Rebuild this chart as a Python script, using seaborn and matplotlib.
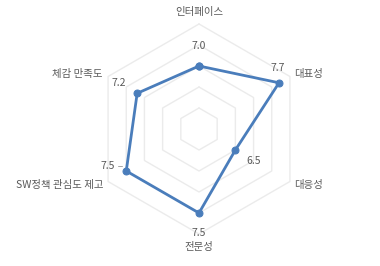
import numpy as np
import pandas as pd
import matplotlib
matplotlib.use("Agg")
import matplotlib.pyplot as plt
import matplotlib.transforms as mtransforms
import seaborn as sns

categories = ["인터페이스", "대표성", "대응성", "전문성", "SW정책 관심도 제고", "체감 만족도"]
values = [7.0, 7.7, 6.5, 7.5, 7.5, 7.2]
grid_levels = [6.0, 6.5, 7.0, 7.5, 8.0]
r_min = 5.5

sns.set_theme(style="white")
plt.rcParams["font.family"] = ["Noto Sans CJK KR", "DejaVu Sans"]

W, H, DPI = 380, 266, 100
fig = plt.figure(figsize=(W / DPI, H / DPI), dpi=DPI)
ax = fig.add_axes([0, 0, 1, 1])

n = len(categories)
angles = np.pi / 2 - 2 * np.pi * np.arange(n) / n
cosA, sinA = np.cos(angles), np.sin(angles)

# hexagonal grid rings
grid_color = "#ebebeb"
for lv in grid_levels:
    r = lv - r_min
    gx = np.append(r * cosA, r * cosA[0])
    gy = np.append(r * sinA, r * sinA[0])
    ax.plot(gx, gy, color=grid_color, lw=1.0, zorder=1)

# data polygon
rv = np.array(values) - r_min
dx = rv * cosA
dy = rv * sinA
df = pd.DataFrame({"x": np.append(dx, dx[0]), "y": np.append(dy, dy[0])})
line_color = "#4a7dbb"
sns.lineplot(data=df, x="x", y="y", sort=False, estimator=None, ax=ax,
             color=line_color, lw=2.0, marker="o", markersize=5,
             markeredgecolor=line_color, markerfacecolor=line_color, zorder=3)

txt_color = "#595959"
fs = 7.5

# value labels (offsets in pixels)
val_offsets = [(0, 20, "center"), (-1, 15, "center"), (18, -11, "center"),
               (0, -20, "center"), (-19, 5, "center"), (-18, 10, "center")]
for i, v in enumerate(values):
    ox, oy, ha = val_offsets[i]
    ax.annotate(f"{v:.1f}", (dx[i], dy[i]), xytext=(ox, oy), textcoords="offset pixels",
                ha=ha, va="center", fontsize=fs, color=txt_color, zorder=4)

# short horizontal leader dash next to the left "7.5" label
off = mtransforms.offset_copy(ax.transData, fig=fig, x=0, y=5, units="dots")
ax.plot([dx[4], dx[4]], [dy[4], dy[4]], alpha=0)
dash = mtransforms.offset_copy(ax.transData, fig=fig, x=-8, y=5, units="dots")
ax.plot([dx[4], dx[4] + 4 / 42.0], [dy[4], dy[4]], color="#a6a6a6", lw=0.7,
        transform=dash, zorder=2)

# category labels
R = grid_levels[-1] - r_min
cat_offsets = [(0, 12, "center"), (4, 2.5, "left"), (4, -3.5, "left"),
               (0, -13, "center"), (-5, -3.5, "right"), (-6, 2.5, "right")]
for i, c in enumerate(categories):
    ox, oy, ha = cat_offsets[i]
    ax.annotate(c, (R * cosA[i], R * sinA[i]), xytext=(ox, oy), textcoords="offset pixels",
                ha=ha, va="center", fontsize=fs, color=txt_color)

# scale: 42 px per unit, center at pixel (199, 129 from top)
k = 42.0
cx, cy = 199, H - 129
ax.set_xlim(-cx / k, (W - cx) / k)
ax.set_ylim(-cy / k, (H - cy) / k)
ax.set_axis_off()

fig.savefig("out.png", dpi=DPI, facecolor="white")
